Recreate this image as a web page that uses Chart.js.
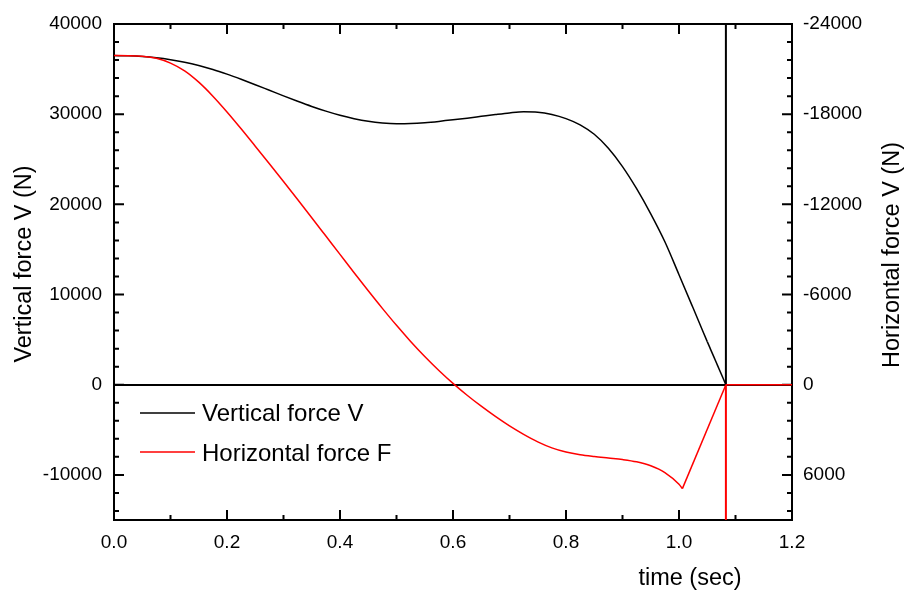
<!DOCTYPE html>
<html lang="en">
<head>
    <meta charset="UTF-8">
    <title>Vertical and horizontal force vs time</title>
    <script src="https://cdn.jsdelivr.net/npm/chart.js"></script>
    <style>
        body { margin: 0; background: #fff; }
    </style>
</head>
<body>
    <canvas id="forceChart" width="904" height="590"></canvas>

    <script>
        // values
        const timeV = [0, 0.025, 0.05, 0.075, 0.1, 0.125, 0.15, 0.175, 0.2, 0.225, 0.25, 0.275, 0.3, 0.325, 0.35, 0.375,
            0.4, 0.425, 0.45, 0.475, 0.5, 0.525, 0.55, 0.575, 0.6, 0.625, 0.65, 0.675, 0.7, 0.725, 0.75, 0.775, 0.8,
            0.825, 0.85, 0.875, 0.9, 0.925, 0.95, 0.975, 1.0, 1.025, 1.05, 1.083, 1.083, 1.083, 1.2];
        const forceV = [36500, 36470, 36390, 36250, 36040, 35760, 35400, 34960, 34440, 33870, 33270, 32650, 32030, 31430,
            30860, 30340, 29880, 29500, 29210, 29030, 28950, 28970, 29060, 29200, 29370, 29560, 29760, 29960, 30140, 30260,
            30220, 29970, 29510, 28820, 27770, 26220, 24190, 21740, 18950, 15850, 12200, 8500, 4780, 0, 40000, 0, 0];
        const smoothEndV = 42; // last point of the smooth part (t = 1.05)

        const timeF = [0, 0.025, 0.05, 0.075, 0.1, 0.125, 0.15, 0.175, 0.2, 0.225, 0.25, 0.275, 0.3, 0.325, 0.35, 0.375,
            0.4, 0.425, 0.45, 0.475, 0.5, 0.525, 0.55, 0.575, 0.6, 0.625, 0.65, 0.675, 0.7, 0.725, 0.75, 0.775, 0.8,
            0.825, 0.85, 0.875, 0.9, 0.925, 0.95, 0.975, 1.0, 1.006, 1.083, 1.083, 1.083, 1.2];
        const forceF = [-21900, -21895, -21860, -21720, -21400, -20880, -20130, -19200, -18150, -17030, -15870, -14700,
            -13520, -12320, -11110, -9890, -8670, -7450, -6250, -5080, -3950, -2880, -1880, -950, -90, 700, 1430, 2110,
            2740, 3300, 3800, 4200, 4480, 4660, 4780, 4880, 4980, 5130, 5390, 5840, 6620, 6910, 0, 9000, 0, 0];
        const smoothEndF = 41; // the kink at t = 1.006

        const xTicks = [0, 0.2, 0.4, 0.6, 0.8, 1.0, 1.2];
        const yTicks = [-10000, 0, 10000, 20000, 30000, 40000];
        const y2Ticks = [-24000, -18000, -12000, -6000, 0, 6000];

        const labelV = 'Vertical force V';
        const labelF = 'Horizontal force F';
        const xTitle = 'time (sec)';
        const yTitle = 'Vertical force V (N)';
        const y2Title = 'Horizontal force V (N)';

        const FONT = '"Liberation Sans", Arial, sans-serif';

        // frame, inward ticks, titles and legend
        const framePlugin = {
            id: 'frame',
            beforeDatasetsDraw(chart) {
                const ctx = chart.ctx;
                const a = chart.chartArea;
                ctx.save();
                ctx.strokeStyle = '#000';
                ctx.lineWidth = 2;
                ctx.strokeRect(a.left, a.top, a.right - a.left, a.bottom - a.top);

                function ticksFor(scale, minorDiv) {
                    const majors = scale.ticks.map(t => t.value);
                    const minorStep = (majors[1] - majors[0]) / minorDiv;
                    const list = [];
                    const start = Math.ceil(scale.min / minorStep - 1e-6);
                    const end = Math.floor(scale.max / minorStep + 1e-6);
                    for (let k = start; k <= end; k++) {
                        const v = k * minorStep;
                        const isMajor = majors.some(m => Math.abs(m - v) < minorStep / 100);
                        list.push({ px: scale.getPixelForValue(v), major: isMajor });
                    }
                    return list;
                }

                ctx.beginPath();
                ticksFor(chart.scales.x, 2).forEach(t => {
                    const len = t.major ? 10 : 5;
                    ctx.moveTo(t.px, a.bottom); ctx.lineTo(t.px, a.bottom - len);
                    ctx.moveTo(t.px, a.top); ctx.lineTo(t.px, a.top + len);
                });
                ticksFor(chart.scales.y, 5).forEach(t => {
                    const len = t.major ? 10 : 5;
                    ctx.moveTo(a.left, t.px); ctx.lineTo(a.left + len, t.px);
                });
                ticksFor(chart.scales.y2, 5).forEach(t => {
                    const len = t.major ? 10 : 5;
                    ctx.moveTo(a.right, t.px); ctx.lineTo(a.right - len, t.px);
                });
                ctx.stroke();
                ctx.restore();
            },
            afterDraw(chart) {
                const ctx = chart.ctx;
                ctx.save();
                ctx.fillStyle = '#000';

                // axis titles
                ctx.font = '23.5px ' + FONT;
                ctx.textAlign = 'center';
                ctx.textBaseline = 'alphabetic';
                ctx.fillText(xTitle, 690, 585);

                ctx.save();
                ctx.translate(31, 264);
                ctx.rotate(-Math.PI / 2);
                ctx.fillText(yTitle, 0, 0);
                ctx.restore();

                ctx.save();
                ctx.translate(899, 255);
                ctx.rotate(-Math.PI / 2);
                ctx.fillText(y2Title, 0, 0);
                ctx.restore();

                // legend, one row per series
                ctx.font = '24px ' + FONT;
                ctx.textAlign = 'left';
                const rows = [{ y: 413, base: 421 }, { y: 452, base: 461 }];
                const seen = [];
                chart.data.datasets.forEach(ds => {
                    if (seen.includes(ds.label)) return;
                    const r = rows[seen.length];
                    seen.push(ds.label);
                    ctx.strokeStyle = ds.borderColor;
                    ctx.lineWidth = 1.5;
                    ctx.beginPath();
                    ctx.moveTo(140, r.y);
                    ctx.lineTo(195, r.y);
                    ctx.stroke();
                    ctx.fillText(ds.label, 202, r.base);
                });
                ctx.restore();
            }
        };

        const ptsV = timeV.map((t, i) => ({ x: t, y: forceV[i] }));
        const ptsF = timeF.map((t, i) => ({ x: t, y: forceF[i] }));

        // vertical jumps drawn a bit heavier, like the original
        const segWidth = c => (c.p0.parsed.x === c.p1.parsed.x ? 2 : 1.5);

        function series(label, color, axis, pts, order, smooth) {
            return {
                label: label,
                data: pts,
                borderColor: color,
                borderWidth: 1.5,
                segment: { borderWidth: segWidth },
                pointRadius: 0,
                cubicInterpolationMode: smooth ? 'monotone' : 'default',
                tension: smooth ? 0.4 : 0,
                yAxisID: axis,
                order: order
            };
        }

        const ctx = document.getElementById('forceChart').getContext('2d');

        window.myChart = new Chart(ctx, {
            type: 'line',
            data: {
                datasets: [
                    series(labelV, '#000000', 'y', ptsV.slice(0, smoothEndV + 1), 2, true),
                    series(labelF, '#ff0000', 'y2', ptsF.slice(0, smoothEndF + 1), 1, true),
                    series(labelV, '#000000', 'y', ptsV.slice(smoothEndV), 2, false),
                    series(labelF, '#ff0000', 'y2', ptsF.slice(smoothEndF), 1, false)
                ]
            },
            options: {
                responsive: false,
                animation: false,
                devicePixelRatio: 1,
                layout: { padding: { top: 24, left: 0, right: 0, bottom: 0 } },
                plugins: {
                    legend: { display: false },
                    tooltip: { enabled: false }
                },
                scales: {
                    x: {
                        type: 'linear',
                        position: 'bottom',
                        min: 0,
                        max: 1.2,
                        grid: { display: false },
                        border: { display: false },
                        afterBuildTicks: s => { s.ticks = xTicks.map(v => ({ value: v })); },
                        ticks: {
                            padding: 3,
                            color: '#000',
                            font: { family: FONT, size: 19 },
                            maxRotation: 0,
                            autoSkip: false,
                            callback: v => v.toFixed(1)
                        },
                        afterFit: s => { s.height = 70; }
                    },
                    y: {
                        position: 'left',
                        min: -15000,
                        max: 40000,
                        border: { display: false },
                        grid: {
                            drawTicks: false,
                            lineWidth: 2,
                            color: c => (c.tick && c.tick.value === 0) ? '#000' : 'rgba(0,0,0,0)'
                        },
                        afterBuildTicks: s => { s.ticks = yTicks.map(v => ({ value: v })); },
                        ticks: {
                            padding: 12,
                            color: '#000',
                            autoSkip: false,
                            font: { family: FONT, size: 19 },
                            callback: v => String(v)
                        },
                        afterFit: s => { s.width = 114; }
                    },
                    y2: {
                        position: 'right',
                        reverse: true,
                        min: -24000,
                        max: 9000,
                        border: { display: false },
                        grid: { display: false, drawTicks: false },
                        afterBuildTicks: s => { s.ticks = y2Ticks.map(v => ({ value: v })); },
                        ticks: {
                            padding: 11,
                            color: '#000',
                            autoSkip: false,
                            font: { family: FONT, size: 19 },
                            callback: v => String(v)
                        },
                        afterFit: s => { s.width = 112; }
                    }
                }
            },
            plugins: [framePlugin]
        });
    </script>
</body>
</html>
